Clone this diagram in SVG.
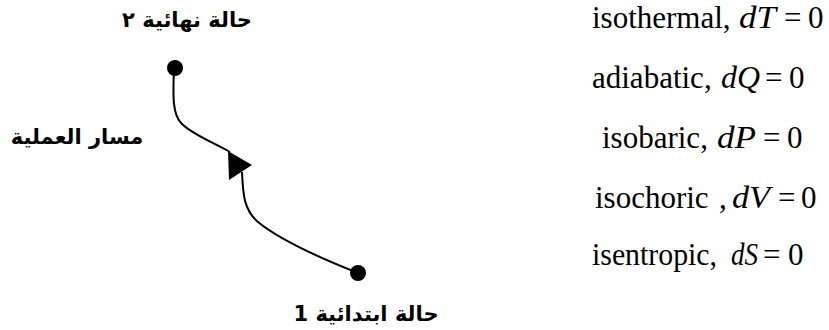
<svg xmlns="http://www.w3.org/2000/svg" width="829" height="330" viewBox="0 0 829 330">
<style>
.ar{font-family:"DejaVu Sans","Noto Sans",sans-serif;font-weight:bold;font-size:21px;fill:#000;text-anchor:middle}
.eq{font-family:"Liberation Serif","Times New Roman",serif;font-size:31px;fill:#000}
.it{font-style:italic}
.dot{fill:#000}
.path{fill:none;stroke:#000;stroke-width:2}
</style>
<rect width="829" height="330" fill="#fff"/>
<g id="connectors">
<path class="path" d="M174,68 C173,95 172,115 182,124 C192,134 212,142 230,152"/>
<path class="path" d="M242,172 C243,195 244,210 258,222 C280,240 320,258 358,273"/>
<polygon points="228,151 252,165 229,180" fill="#000"/>
</g>
<g id="state2">
<circle class="dot" cx="175" cy="68" r="8"/>
<text class="ar" x="187" y="27" direction="rtl">حالة نهائية ٢</text>
</g>
<g id="state1">
<circle class="dot" cx="358" cy="273" r="8"/>
<text class="ar" x="366" y="321" direction="rtl">حالة ابتدائية 1</text>
</g>
<g id="process-label">
<text class="ar" x="77" y="144" direction="rtl">مسار العملية</text>
</g>
<g id="processes">
<text class="eq" y="28"><tspan x="592">isothermal,</tspan><tspan class="it" x="739" textLength="37" lengthAdjust="spacingAndGlyphs">dT</tspan><tspan x="784">=</tspan><tspan x="808">0</tspan></text>
<text class="eq" y="88"><tspan x="592">adiabatic,</tspan><tspan class="it" x="721" textLength="39" lengthAdjust="spacingAndGlyphs">dQ</tspan><tspan x="765">=</tspan><tspan x="789">0</tspan></text>
<text class="eq" y="148"><tspan x="602">isobaric,</tspan><tspan class="it" x="717" textLength="39" lengthAdjust="spacingAndGlyphs">dP</tspan><tspan x="763">=</tspan><tspan x="787">0</tspan></text>
<text class="eq" y="208"><tspan x="595">isochoric</tspan><tspan x="719">,</tspan><tspan class="it" x="732" textLength="38" lengthAdjust="spacingAndGlyphs">dV</tspan><tspan x="778">=</tspan><tspan x="801">0</tspan></text>
<text class="eq" y="265"><tspan x="592" textLength="125" lengthAdjust="spacingAndGlyphs">isentropic,</tspan><tspan class="it" x="731" textLength="27" lengthAdjust="spacingAndGlyphs">dS</tspan><tspan x="763">=</tspan><tspan x="788">0</tspan></text>
</g>
</svg>
